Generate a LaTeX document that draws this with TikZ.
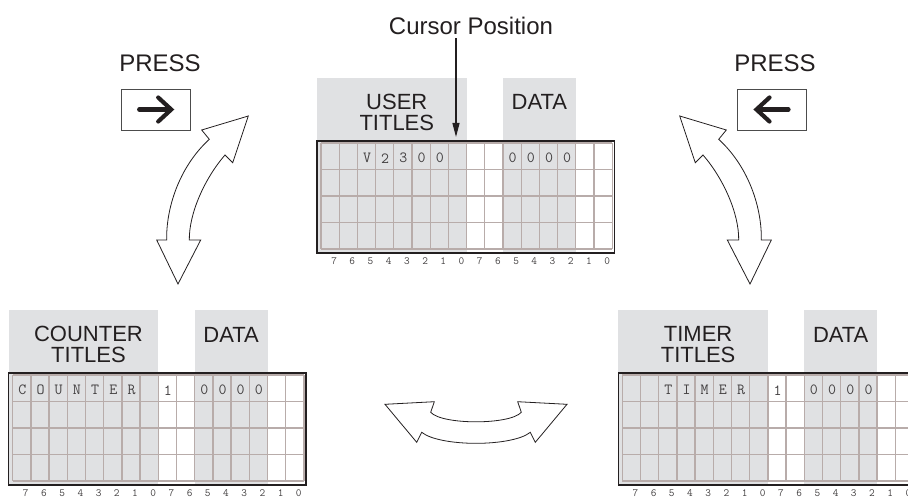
\documentclass[tikz,border=0pt]{standalone}
\usepackage{fontspec}
\setmainfont{Liberation Sans}
\usetikzlibrary{arrows.meta}
\definecolor{PanelGray}{RGB}{224,225,227}
\definecolor{CellLine}{RGB}{184,172,170}
\definecolor{InkBlack}{RGB}{35,31,32}
\def\cw{18.2}
\def\rh{26.5}
\tikzset{
  cellline/.style={CellLine,line width=1.3pt},
  lcdframe/.style={InkBlack,line width=1.2pt},
  titletext/.style={InkBlack,font=\fontsize{22}{21}\selectfont,align=center,inner sep=0pt},
  cellchar/.style={InkBlack!85,font=\ttfamily\fontsize{15.5}{15.5}\selectfont,inner sep=0pt},
  bitnum/.style={InkBlack!85,font=\ttfamily\fontsize{11}{11}\selectfont,inner sep=0pt},
  biglabel/.style={InkBlack,font=\fontsize{24}{24}\selectfont,inner sep=0pt,anchor=base},
  keybox/.style={draw=black!70,line width=0.9pt,minimum width=69pt,minimum height=41pt,inner sep=0pt},
  keyarrow/.style={InkBlack,line width=4.2pt,line cap=round},
  cursorarrow/.style={InkBlack,line width=1.3pt,-{Triangle[width=7pt,length=14pt]}},
  swing/.style={draw=InkBlack,line width=0.8pt,fill=white,line join=miter},
}
% one display: #1 name, #2,#3 top left of the cells, #4 titles, #5 cell/char pairs
\newcommand{\lcdpanel}[5]{%
  \fill[PanelGray] (#2-4,#3-65) rectangle (#2+8*\cw,#3+4*\rh+4);
  \fill[PanelGray] (#2+10*\cw,#3-65) rectangle (#2+14*\cw,#3+4*\rh+4);
  \foreach \i in {0,...,16} {
    \draw[cellline] (#2+\i*\cw,#3) -- ++(0,4*\rh);
  }
  \foreach \j in {0,...,4} {
    \draw[cellline] (#2,#3+\j*\rh) -- ++(16*\cw,0);
  }
  \draw[lcdframe] (#2-4,#3-2) rectangle (#2+16*\cw+2,#3+4*\rh+4);
  \node[titletext] (#1-title) at (#2+4*\cw+3,#3-30.3) {#4};
  \node[titletext,anchor=base] (#1-data) at (#2+12*\cw,#3-33) {DATA};
  \foreach \i/\c in {#5} {
    \node[cellchar] (#1-c\i) at (#2+\i*\cw+\cw/2+0.5,#3+\rh/2+2) {\c};
  }
  \foreach \b [count=\i from 0] in {7,6,5,4,3,2,1,0,7,6,5,4,3,2,1,0} {
    \node[bitnum] (#1-b\i) at (#2+\i*\cw+\cw/2+4,#3+118.5) {\b};
  }
}
% curved double arrow, drawn on the left
\newcommand{\swingarrow}{%
  \draw[swing] (248.3,116) -- (232.7,162.7) -- (225,155)
    .. controls (205,178) and (189,213) .. (189.3,240)
    -- (200.7,240) -- (178,284) -- (156.7,240) -- (166.7,240)
    .. controls (166,210) and (178,168) .. (209.3,139.3)
    -- (201.7,130) -- cycle;
}

\begin{document}
\begin{tikzpicture}[x=1pt,y=-1pt]
\clip (0,0) rectangle (908,500);

% displays
\lcdpanel{user}{321}{143}{USER\\TITLES}{2/V,3/2,4/3,5/0,6/0,10/0,11/0,12/0,13/0}
\lcdpanel{cnt}{12.7}{375}{COUNTER\\TITLES}{0/C,1/O,2/U,3/N,4/T,5/E,6/R,8/1,10/0,11/0,12/0,13/0}
\lcdpanel{tmr}{622.3}{375}{TIMER\\TITLES}{2/T,3/I,4/M,5/E,6/R,8/1,10/0,11/0,12/0,13/0}

% cursor
\node[biglabel] (cursor) at (471,35) {Cursor Position};
\coordinate (cur) at (456,137);
\draw[cursorarrow] ([yshift=-3pt]cursor.south -| cur) -- (cur);

% keys
\node[biglabel] (pressl) at (160,71.7) {PRESS};
\node[keybox] (keyl) at (156.2,109.5) {};
\draw[keyarrow] ([xshift=-17pt]keyl.center) -- ([xshift=14pt]keyl.center);
\draw[keyarrow,line join=miter] ([shift={(2,-12)}]keyl.center) -- ([xshift=15pt]keyl.center) -- ([shift={(2,12)}]keyl.center);

\node[biglabel] (pressr) at (775,71.7) {PRESS};
\node[keybox] (keyr) at (771.5,109.5) {};
\draw[keyarrow] ([xshift=17pt]keyr.center) -- ([xshift=-14pt]keyr.center);
\draw[keyarrow,line join=miter] ([shift={(-2,-12)}]keyr.center) -- ([xshift=-15pt]keyr.center) -- ([shift={(-2,12)}]keyr.center);

% big arrows
\swingarrow
\begin{scope}[xshift=928pt,xscale=-1]
  \swingarrow
\end{scope}
\draw[swing] (385,404.3) -- (434.3,401.7) -- (430.7,412.3)
  .. controls (442,425) and (510,425) .. (521.3,412.3)
  -- (517.7,401.7) -- (567,404.3) -- (535.3,442.3) -- (530.3,432.3)
  .. controls (512,447) and (440,447) .. (421.7,432.3)
  -- (416.7,442.3) -- cycle;
\end{tikzpicture}
\end{document}
